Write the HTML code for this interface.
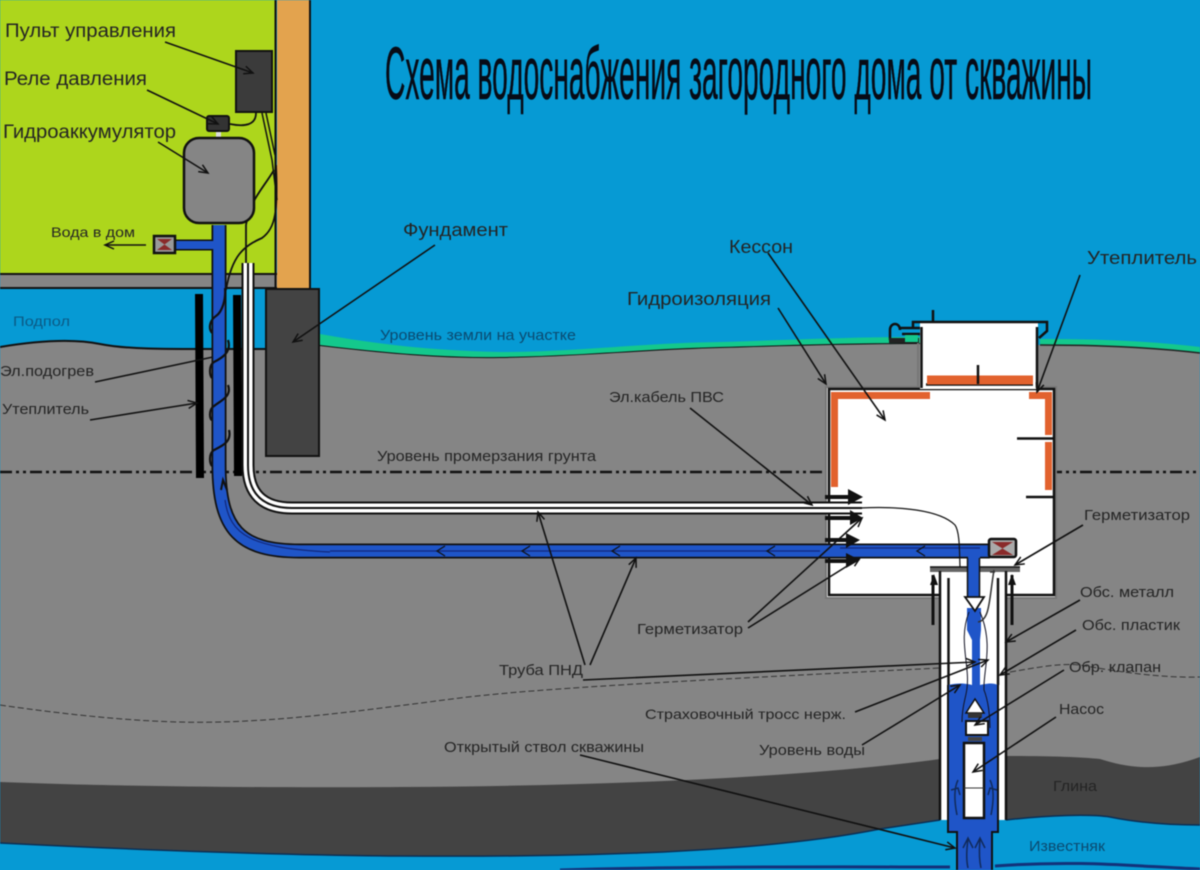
<!DOCTYPE html>
<html><head><meta charset="utf-8"><style>
html,body{margin:0;padding:0;background:#069ad4}
svg{display:block;filter:blur(0.45px)}
text{font-family:"Liberation Sans",sans-serif;fill:#242424}
</style></head><body>
<svg width="1200" height="870" viewBox="0 0 1200 870" xmlns="http://www.w3.org/2000/svg">
<defs>
<marker id="a" markerWidth="12" markerHeight="12" refX="10" refY="5" orient="auto" markerUnits="userSpaceOnUse"><path d="M1,1 L10,5 L1,9" fill="none" stroke="#111" stroke-width="1.5"/></marker>
</defs>
<rect width="1200" height="870" fill="#069ad4"/>
<!-- house -->
<rect x="0" y="0" width="275" height="274" fill="#add61c"/>
<rect x="0" y="274" width="277" height="14" fill="#858585"/>
<path d="M0,274H277M0,288H277" stroke="#111" stroke-width="2"/>
<rect x="277" y="0" width="33" height="289" fill="#e3a34e"/>
<path d="M275.500,0V288M310,0V289" stroke="#111" stroke-width="2"/>
<!-- ground -->
<path d="M0,347 C30,342 70,338 100,344 C130,350 170,349 265,349 L320,345 C380,352 440,358 500,357 C580,356 640,349 720,347 C790,345 850,343 920,343 L1040,345 C1100,345 1150,347 1200,353 V870 H0Z" fill="#858585"/>
<path d="M0,347 C30,342 70,338 100,344 C130,350 170,349 265,349 M320,345 C380,352 440,358 500,357 C580,356 640,349 720,347 C790,345 850,343 920,343" fill="none" stroke="#111" stroke-width="2"/>
<path d="M320,334 C380,345 440,351 500,352 C580,352 640,343 720,342 C790,340 850,337 920,337 V343 C850,343 790,345 720,347 C640,349 580,356 500,357 C440,358 380,352 320,345Z" fill="#14c88c"/>
<path d="M1040,339 C1100,339 1150,341 1200,347 V353 C1150,347 1100,345 1040,345Z" fill="#14c88c"/>
<path d="M1040,345 C1100,345 1150,347 1200,353" fill="none" stroke="#222" stroke-width="1.500"/>
<!-- clay -->
<path d="M0,782 C100,786 250,788 400,787 C600,786 800,778 940,759 L1006,756 C1050,756 1080,757 1100,759 C1140,772 1170,768 1200,757 V870 H0Z" fill="#434343"/>
<!-- limestone -->
<path d="M0,843 C100,848 250,855 400,856 C550,857 750,855 880,829 L940,820 H1006 C1050,815 1090,814 1110,817 C1140,823 1170,825 1200,825 V870 H0Z" fill="#069ad4"/>
<path d="M0,843 C100,848 250,855 400,856 C550,857 750,855 880,829 L940,820 M1006,820 C1050,815 1090,814 1110,817 C1140,823 1170,825 1200,825" fill="none" stroke="#0b2f55" stroke-width="1.500"/>
<path d="M560,870 C700,866 850,867 950,867 M995,866 C1080,860 1130,866 1200,869" fill="none" stroke="#12327a" stroke-width="3"/>
<!-- dashed line lower -->
<path d="M0,705 C70,715 150,724 220,722 C300,720 380,708 460,698 C540,688 700,680 940,668 M1010,672 C1040,667 1060,663 1080,665 C1120,672 1160,678 1200,677" fill="none" stroke="#333" stroke-width="1" stroke-dasharray="6 3"/>
<!-- frost line -->
<path d="M0,472H1200" stroke="#111" stroke-width="2.500" stroke-dasharray="12 4 3 4 3 4"/>
<!-- foundation -->
<rect x="266" y="289" width="53" height="167" fill="#434343" stroke="#111" stroke-width="2"/>
<!-- caisson -->
<rect x="826" y="387" width="230" height="211" fill="#fff" stroke="#777" stroke-width="2"/>
<rect x="829" y="389" width="225" height="206" fill="#fff" stroke="#111" stroke-width="2.500"/>
<rect x="920" y="322" width="118" height="67" fill="#fff"/>
<path d="M918,340V386" stroke="#777" stroke-width="2"/>
<path d="M921.500,327V388M1037,327V388" stroke="#111" stroke-width="2.500"/>
<path d="M913,327V322H1047V331L1039,338" fill="none" stroke="#111" stroke-width="2.500"/>
<path d="M933,310V322M926,384.500H1033" stroke="#111" stroke-width="2.500"/>
<rect x="927" y="375.500" width="106" height="9" fill="#e2622e"/>
<path d="M978,365V384" stroke="#111" stroke-width="2.500"/>
<path d="M831,392H930V399H838V487H831Z" fill="#e2622e"/>
<path d="M1029,392H1052V435H1045V399H1029Z" fill="#e2622e"/>
<rect x="1045" y="442" width="7" height="48" fill="#e2622e"/>
<path d="M1017,438.500H1054M1026,497H1054" stroke="#111" stroke-width="2.500"/>
<!-- hand pump -->
<path d="M890,340V330C890,322 900,322 900,330M900,328H920M902,334H920" fill="none" stroke="#111" stroke-width="2.500"/>
<rect x="889" y="338" width="30" height="5" fill="#222"/>
<rect x="905" y="335" width="13" height="7" fill="#14c88c"/>
<!-- insulators -->
<path d="M199,294L200,478M237,295L238,476" stroke="#000" stroke-width="8"/>
<!-- white pipe -->
<path d="M248,263V465Q248,508 292,508H862" fill="none" stroke="#111" stroke-width="13"/>
<path d="M248,263V465Q248,508 292,508H862" fill="none" stroke="#fff" stroke-width="9"/>
<path d="M248,263V465Q248,508 292,508H862" fill="none" stroke="#111" stroke-width="2"/>
<!-- blue pipe -->
<path d="M219,225V465C219,530 240,551 300,551H990" fill="none" stroke="#111" stroke-width="15"/>
<path d="M219,225V465C219,530 240,551 300,551H990" fill="none" stroke="#1f55c8" stroke-width="11.500"/>
<path d="M172,245H213" stroke="#111" stroke-width="11"/>
<path d="M172,245H221" stroke="#1f55c8" stroke-width="8"/>
<path d="M225,500C230,535 250,548 330,552M330,551H820M840,548H980" fill="none" stroke="#12287a" stroke-width="1.200"/>
<path d="M221,490L223,480L227,490" fill="none" stroke="#111" stroke-width="2"/>
<path d="M445,546L437,551L445,556M530,546L522,551L530,556M620,546L612,551L620,556M775,546L767,551L775,556M925,546L917,551L925,556" fill="none" stroke="#111" stroke-width="1.300"/>
<!-- heater spiral -->
<path d="M212,333C208,328 210,320 216,316C222,312 226,300 225,288M228,340C232,352 222,358 214,362C208,366 210,376 212,378M228,385C232,396 222,400 214,406C208,410 210,420 212,420M229,430C232,442 222,446 214,450C208,454 210,464 212,466" fill="none" stroke="#111" stroke-width="2.200"/>
<!-- sleeves -->
<path d="M825,497H853M825,518H853M825,540H852M825,561H851" stroke="#111" stroke-width="4"/>
<path d="M848,489L863,497L848,505Z M850,510L863,518L850,525Z M846,533L860,540L846,548Z M846,553L860,560L846,568Z" fill="#111"/>
<!-- cable in caisson -->
<path d="M860,508C900,506 940,510 955,525C962,535 958,570 962,590 C964,620 952,650 964,685" fill="none" stroke="#111" stroke-width="1.200"/>
<!-- well -->
<rect x="941" y="568" width="64" height="252" fill="#fff"/>
<path d="M930,569.500H1020" stroke="#666" stroke-width="5"/>
<path d="M930,567H1020" stroke="#111" stroke-width="1.500"/>
<path d="M940,571V820M1006,571V820M948.500,578V685M998,578V685" stroke="#111" stroke-width="2.500"/>
<path d="M933,575V625M1012,575V625" stroke="#111" stroke-width="3"/>
<path d="M930,585L934,574L938,585M1008,585L1012,574L1016,585" fill="#111"/>
<path d="M948,685C960,682 970,684 975,686C985,684 992,682 998,685V832H992V870H957V832H948Z" fill="#1f55c8"/>
<path d="M948,685V832H957V870M998,685V832H992V870" fill="none" stroke="#111" stroke-width="2"/>
<path d="M968,552V600H980V552Z M967,608H981V630L980,640V690L986,712V735H964V712L972,690V640L967,630Z" fill="#1f55c8"/>
<path d="M967.500,558V597M979.500,558V597" stroke="#111" stroke-width="1.500"/>
<path d="M965,597H984L975,611Z" fill="#fff" stroke="#111" stroke-width="1.800"/>
<path d="M969,612C958,640 970,665 967,688C966,698 962,705 962,722M980,612C994,645 983,670 984,690C988,700 990,715 990,728" fill="none" stroke="#112" stroke-width="1"/>
<path d="M994,570C989,600 990,620 978,622M990,572L995,572" fill="none" stroke="#333" stroke-width="1.500"/>
<path d="M975,699L966,713H984Z" fill="#fff" stroke="#111" stroke-width="1.500"/>
<rect x="968" y="713" width="14" height="5" fill="#333"/>
<rect x="966" y="721" width="22" height="14" fill="#fff" stroke="#111" stroke-width="2"/>
<rect x="968" y="737" width="14" height="4" fill="#444"/>
<rect x="964" y="743" width="20" height="75" fill="#fff" stroke="#111" stroke-width="2.500"/>
<path d="M964,788H984" stroke="#333" stroke-width="1"/>
<path d="M958,780C953,790 955,805 957,815M951,790L958,788L960,795M990,780C995,790 993,805 991,815M997,790L990,788L988,795M968,868C965,855 968,842 968,838M963,848L968,838L973,848M981,868C978,855 980,842 980,838M975,848L980,838L985,848" fill="none" stroke="#112a5a" stroke-width="1.500"/>
<!-- valve right -->
<rect x="989" y="539" width="27" height="18" rx="2" fill="#aaa" stroke="#111" stroke-width="2.500"/>
<path d="M992,542L1013,555H992L1013,542Z" fill="#8a2a2a"/>
<!-- house devices -->
<rect x="236" y="51" width="36" height="61" fill="#3b3b3b" stroke="#111" stroke-width="2"/>
<rect x="216" y="130" width="5" height="9" fill="#ddd"/>
<rect x="207" y="116" width="22" height="15" rx="2" fill="#333" stroke="#111" stroke-width="2"/>
<path d="M230,124C245,127 256,125 256,113" fill="none" stroke="#111" stroke-width="1.800"/>
<path d="M262,113L272,160L277,200M266,113L275,155" fill="none" stroke="#111" stroke-width="1.500"/>
<path d="M274,170C262,190 250,200 246,225V263M276,165C278,210 276,228 262,238C244,246 232,255 226,290" fill="none" stroke="#111" stroke-width="1.800"/>
<rect x="184" y="138" width="70" height="85" rx="15" fill="#858585" stroke="#111" stroke-width="2.500"/>
<rect x="154" y="236" width="21" height="17" fill="#999" stroke="#111" stroke-width="2.500"/>
<path d="M157,239L172,250H157L172,239Z" fill="#8a2a2a"/>
<!-- arrows -->
<path d="M95,382L213,357" fill="none" stroke="#111" stroke-width="1.600"/>
<g fill="none" stroke="#111" stroke-width="1.600" marker-end="url(#a)">
<path d="M165,42L253,73"/>
<path d="M147,90L218,124"/>
<path d="M158,142L208,173"/>
<path d="M146,245L105,245"/>
<path d="M435,245L293,342"/>
<path d="M768,253L885,420"/>
<path d="M778,308L826,384"/>
<path d="M1080,275L1037,392"/>
<path d="M690,408L812,505"/>
<path d="M90,420L197,403"/>
<path d="M1083,525L1015,565"/>
<path d="M1080,600L1006,642"/>
<path d="M1076,630L1000,675"/>
<path d="M1064,670L975,725"/>
<path d="M1056,717L973,772"/>
<path d="M748,622L862,518"/>
<path d="M748,628L860,558"/>
<path d="M585,665L538,512"/>
<path d="M590,665L636,558"/>
<path d="M583,680L975,662"/>
<path d="M855,712L988,660"/>
<path d="M862,745L960,685"/>
<path d="M580,755L955,848"/>
</g>
<!-- labels -->
<text x="385" y="99" font-size="74" textLength="707" lengthAdjust="spacingAndGlyphs" style="fill:#070b16" stroke="#070b16" stroke-width="0.500">Схема водоснабжения загородного дома от скважины</text>
<text x="5" y="37" font-size="19" textLength="171" lengthAdjust="spacingAndGlyphs">Пульт управления</text>
<text x="4" y="85" font-size="19" textLength="143" lengthAdjust="spacingAndGlyphs">Реле давления</text>
<text x="3" y="138" font-size="19" textLength="173" lengthAdjust="spacingAndGlyphs">Гидроаккумулятор</text>
<text x="51" y="237" font-size="14" textLength="84" lengthAdjust="spacingAndGlyphs">Вода в дом</text>
<text x="403" y="236" font-size="18" textLength="105" lengthAdjust="spacingAndGlyphs">Фундамент</text>
<text x="729" y="253" font-size="18" textLength="64" lengthAdjust="spacingAndGlyphs">Кессон</text>
<text x="627" y="305" font-size="18" textLength="144" lengthAdjust="spacingAndGlyphs">Гидроизоляция</text>
<text x="1087" y="264" font-size="18" textLength="110" lengthAdjust="spacingAndGlyphs">Утеплитель</text>
<text x="13" y="326" font-size="14" textLength="57" lengthAdjust="spacingAndGlyphs" style="fill:#0b5a85">Подпол</text>
<text x="380" y="340" font-size="15" textLength="196" lengthAdjust="spacingAndGlyphs" style="fill:#0b4a70">Уровень земли на участке</text>
<text x="0" y="376" font-size="15" textLength="94" lengthAdjust="spacingAndGlyphs">Эл.подогрев</text>
<text x="2" y="414" font-size="15" textLength="87" lengthAdjust="spacingAndGlyphs">Утеплитель</text>
<text x="377" y="461" font-size="15" textLength="219" lengthAdjust="spacingAndGlyphs">Уровень промерзания грунта</text>
<text x="609" y="402" font-size="15" textLength="115" lengthAdjust="spacingAndGlyphs">Эл.кабель ПВС</text>
<text x="1084" y="520" font-size="15" textLength="106" lengthAdjust="spacingAndGlyphs">Герметизатор</text>
<text x="1080" y="597" font-size="15" textLength="94" lengthAdjust="spacingAndGlyphs">Обс. металл</text>
<text x="1082" y="630" font-size="15" textLength="98" lengthAdjust="spacingAndGlyphs">Обс. пластик</text>
<text x="1069" y="672" font-size="15" textLength="92" lengthAdjust="spacingAndGlyphs">Обр. клапан</text>
<text x="1059" y="714" font-size="15" textLength="45" lengthAdjust="spacingAndGlyphs">Насос</text>
<text x="1053" y="791" font-size="15" textLength="44" lengthAdjust="spacingAndGlyphs">Глина</text>
<text x="1029" y="851" font-size="15" textLength="76" lengthAdjust="spacingAndGlyphs" style="fill:#0b4a70">Известняк</text>
<text x="637" y="634" font-size="15" textLength="106" lengthAdjust="spacingAndGlyphs">Герметизатор</text>
<text x="499" y="675" font-size="15" textLength="84" lengthAdjust="spacingAndGlyphs">Труба ПНД</text>
<text x="645" y="719" font-size="14" textLength="201" lengthAdjust="spacingAndGlyphs">Страховочный тросс нерж.</text>
<text x="759" y="755" font-size="15" textLength="106" lengthAdjust="spacingAndGlyphs">Уровень воды</text>
<text x="444" y="752" font-size="14.500" textLength="200" lengthAdjust="spacingAndGlyphs">Открытый ствол скважины</text>
</svg>
</body></html>
